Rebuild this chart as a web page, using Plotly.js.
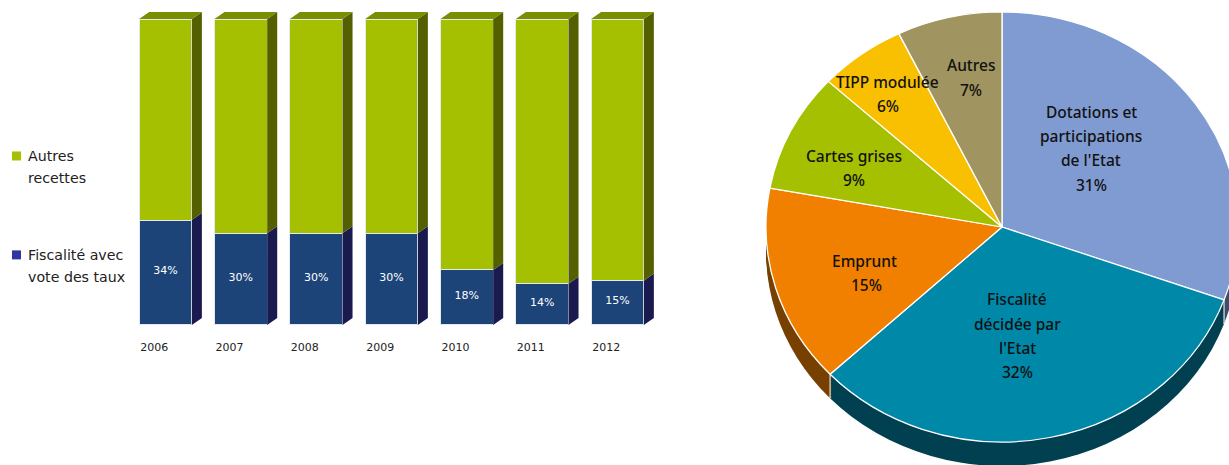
<!DOCTYPE html>
<html><head><meta charset="utf-8">
<script src="https://cdn.plot.ly/plotly-3.0.1.min.js"></script>
<style>html,body{margin:0;padding:0;background:#fff;overflow:hidden}#c{width:1229px;height:465px}</style>
</head><body><div id="c"></div>
<script>
const years = ['2006','2007','2008','2009','2010','2011','2012'];
const fiscalite = [34.3,30,30,30,18,13.5,14.5];
const autresRecettes = [65.7,70,70,70,82,86.5,85.5];
const barLabels = ['34%','30%','30%','30%','18%','14%','15%'];
const pieLabels = ['Dotations et participations de l\'Etat','Fiscalité décidée par l\'Etat','Emprunt','Cartes grises','TIPP modulée','Autres'];
const pieValues = [30.5,32.49,14.9,8.95,5.96,7.2];
const pieColors = ['#7F9BD1','#0088A8','#F28000','#A4C000','#F8C000','#A09560'];
const pieSides  = ['#3F4D69','#004050','#784000','#526000','#7C6000','#504A30'];
const pieText = [
  [["Dotations et",1091,112],["participations",1091,136],["de l'Etat",1091,160],["31%",1091,185]],
  [["Fiscalité",1017,299],["décidée par",1017,324],["l'Etat",1017,348],["32%",1017,372]],
  [["Emprunt",865,261],["15%",866,285]],
  [["Cartes grises",854,156],["9%",854,180]],
  [["TIPP modulée",888,82],["6%",888,106]],
  [["Autres",971,65],["7%",971,90]]
];
const W=1229,H=465;
const FONT='"DejaVu Sans", Verdana, sans-serif';
const PIEFONT='"Noto Sans", "DejaVu Sans", sans-serif';
const xs = years.map((_,i)=>i);
const barW=0.7, dx=0.133, dy=2.29;
function sides(lo,hi){const X=[],Y=[];xs.forEach((x,i)=>{const r=x+barW/2;
  X.push(r,r+dx,r+dx,r,r,null);Y.push(lo[i],lo[i]+dy,hi[i]+dy,hi[i],lo[i],null);});return {x:X,y:Y};}
const tops=(()=>{const X=[],Y=[];xs.forEach((x,i)=>{const l=x-barW/2,r=x+barW/2,t=fiscalite[i]+autresRecettes[i];
  X.push(l,l+dx,r+dx,r,l,null);Y.push(t,t+dy,t+dy,t,t,null);});return {x:X,y:Y};})();
const totals=fiscalite.map((v,i)=>v+autresRecettes[i]);
const poly=(d,c)=>({type:'scatter',mode:'lines',x:d.x,y:d.y,fill:'toself',fillcolor:c,line:{width:0,color:c},hoverinfo:'skip',showlegend:false,xaxis:'x',yaxis:'y'});
const edge={color:'#E4EAF0',width:1};
const traces=[
 {type:'bar',name:'Fiscalité avec vote des taux',x:xs,y:fiscalite,width:barW,marker:{color:'#1C4478',line:edge},text:barLabels,textposition:'inside',insidetextanchor:'middle',textangle:0,insidetextfont:{color:'#fff',size:11,family:FONT},showlegend:false,hoverinfo:'skip'},
 {type:'bar',name:'Autres recettes',x:xs,y:autresRecettes,width:barW,marker:{color:'#A4C000',line:edge},showlegend:false,hoverinfo:'skip'},
 poly(sides(fiscalite.map(()=>0),fiscalite),'#1B1A4F'),
 poly(sides(fiscalite,totals),'#546000'),
 poly(tops,'#7A8F00'),
 {type:'scatter',mode:'markers',name:'Autres<br>recettes',x:[null],y:[null],legendgroup:'b',marker:{symbol:'square',size:9,color:'#A4C000'},hoverinfo:'skip'},
 {type:'scatter',mode:'markers',name:'Fiscalité avec<br>vote des taux',x:[null],y:[null],legendgroup:'a',marker:{symbol:'square',size:9,color:'#3535A0'},hoverinfo:'skip'}
];
const LAYERS=[24,21,18,15,12,9,6,3];
const pieDomain={x:[(1002-215)/W,(1002+215)/W],y:[(H-442)/H,(H-12)/H]};
LAYERS.forEach(()=>traces.push({type:'pie',values:pieValues,labels:pieLabels,sort:false,direction:'clockwise',rotation:0,domain:pieDomain,textinfo:'none',hoverinfo:'skip',showlegend:false,marker:{colors:pieSides,line:{width:0}}}));
traces.push({type:'pie',values:pieValues,labels:pieLabels,sort:false,direction:'clockwise',rotation:0,domain:pieDomain,textinfo:'none',hoverinfo:'skip',showlegend:false,marker:{colors:pieColors,line:{color:'#FFFFFF',width:1.2}}});
const annotations=[];
pieText.forEach(block=>block.forEach(([t,x,y])=>annotations.push({text:t,xref:'paper',yref:'paper',x:x/W,y:1-y/H,xanchor:'center',yanchor:'middle',showarrow:false,font:{family:PIEFONT,size:15.5,weight:500,color:'#111'}})));
const CX=1002,CY=227,RX=236,RY=215,DEPTH=24;
const total=pieValues.reduce((a,b)=>a+b,0);
const shapes=[];let cum=0;
pieValues.forEach(v=>{cum+=v;const t=cum/total*2*Math.PI;if(Math.cos(t)<-0.2||(Math.cos(t)<0&&Math.sin(t)>0)){
 const px=CX+RX*Math.sin(t),py=CY-RY*Math.cos(t);
 shapes.push({type:'line',xref:'paper',yref:'paper',x0:px/W,x1:px/W,y0:1-py/H,y1:1-(py+DEPTH)/H,line:{color:'#fff',width:1}});}});
const layout={
 width:W,height:H,margin:{l:0,r:0,t:0,b:0,pad:0},paper_bgcolor:'#fff',plot_bgcolor:'#fff',barmode:'stack',
 xaxis:{domain:[100/W,680/W],range:[(100-165.5)/75.33,(680-165.5)/75.33],tickmode:'array',tickvals:xs.map(x=>x-0.15),ticktext:years,ticks:'',showgrid:false,zeroline:false,showline:false,tickfont:{family:FONT,size:11,color:'#222'},ticklabelstandoff:14,fixedrange:true},
 yaxis:{domain:[(H-325)/H,(H-3.7)/H],range:[0,105],visible:false,fixedrange:true},
 legend:{x:0,xanchor:'left',y:1-140/H,yanchor:'top',traceorder:'grouped',tracegroupgap:59,itemwidth:30,font:{family:FONT,size:14.2,color:'#222'},bgcolor:'rgba(0,0,0,0)'},
 showlegend:true,annotations,shapes,hovermode:false
};
Plotly.newPlot('c',traces,layout,{displayModeBar:false,staticPlot:true}).then(()=>{
 document.querySelectorAll('.pielayer .trace').forEach((g,i)=>{
  const s=i<LAYERS.length?LAYERS[i]:0;
  g.setAttribute('transform',`translate(${CX},${CY+s}) scale(${RX/RY},1) translate(${-CX},${-CY})`);
 });
 document.querySelectorAll('.legend .traces').forEach(tr=>{
  const txt=tr.querySelector('text.legendtext');
  const lx=parseFloat(txt.getAttribute('x'))-12;
  txt.setAttribute('x',lx);
  txt.querySelectorAll('tspan.line').forEach((l,i)=>{l.setAttribute('x',lx);if(i>0)l.setAttribute('dy','21.5px');});
  tr.querySelector('.legendsymbols').setAttribute('transform','translate(-3.5,-9)');
 });
 document.querySelectorAll('.bars .point text').forEach(t=>{
  t.setAttribute('transform','translate(0,-2) '+(t.getAttribute('transform')||''));
 });
});
</script></body></html>
